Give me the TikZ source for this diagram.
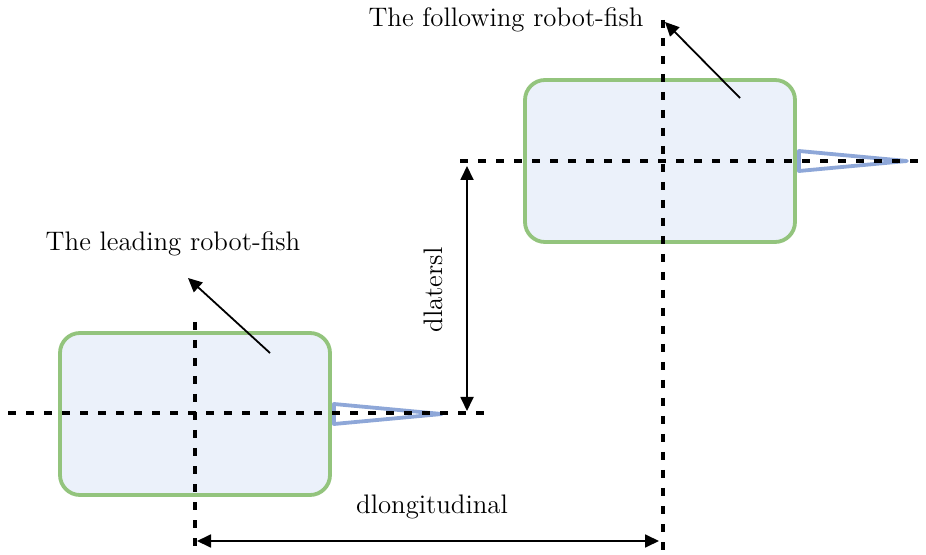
\documentclass[tikz,border=0pt]{standalone}
\usepackage{tikz}
\usetikzlibrary{arrows.meta,positioning}
\definecolor{fishFill}{HTML}{EBF1FA}
\definecolor{fishEdge}{HTML}{93C47D}
\definecolor{tailEdge}{HTML}{8EA7D8}
\tikzset{
    fishBody/.style={
        draw=fishEdge,
        line width=1.9pt,
        fill=fishFill,
        rounded corners=10pt,
        minimum width=135pt,
        minimum height=81pt,
        inner sep=0pt
    },
    fishTail/.style={
        draw=tailEdge,
        line width=1.9pt,
        line join=round
    },
    axisLine/.style={
        dash pattern=on 4pt off 5pt,
        line width=1.8pt
    },
    pointerArrow/.style={
        -{Triangle[length=7pt,width=6.5pt]},
        line width=0.9pt
    },
    measureArrow/.style={
        {Triangle[length=7pt,width=6.5pt]}-{Triangle[length=7pt,width=6.5pt]},
        line width=0.9pt
    },
    fishLabel/.style={
        font=\fontsize{13.4}{16}\selectfont,
        inner sep=0pt
    }
}

\begin{document}
\begin{tikzpicture}[x=0.5pt,y=-0.5pt]
        \useasboundingbox (0,0) rectangle (926,555);

        % bodies
        \node[fishBody] (leader) at (195,414) {};
        \node[fishBody] (follower) at (660,161) {};

        % tails
        \draw[fishTail] ([xshift=1pt,yshift=5pt]leader.east) -- ++(108,10) -- ++(-108,10) -- cycle;
        \draw[fishTail] ([xshift=1pt,yshift=5pt]follower.east) -- ++(108,10) -- ++(-108,10) -- cycle;

        % axes
        \coordinate (leadW) at (8,413);
        \coordinate (leadE) at (485,413);
        \coordinate (leadN) at (195,322);
        \coordinate (leadS) at (195,555);
        \coordinate (followW) at (460,161);
        \coordinate (followE) at (926,161);
        \coordinate (followN) at (663,20);
        \coordinate (followS) at (663,555);
        \draw[axisLine] (leadW) -- (leadE);
        \draw[axisLine] (leadN) -- (leadS);
        \draw[axisLine] (followW) -- (followE);
        \draw[axisLine] (followN) -- (followS);

        % pointers
        \node[fishLabel] (leadText) at (173,244) {The leading robot-fish};
        \node[fishLabel] (followText) at (506,20) {The following robot-fish};
        \coordinate (leadFrom) at (270,353);
        \coordinate (leadTo) at (188,278);
        \coordinate (followFrom) at (740,98);
        \coordinate (followTo) at (665,22);
        \draw[pointerArrow] (leadFrom) -- (leadTo);
        \draw[pointerArrow] (followFrom) -- (followTo);

        % distances
        \coordinate (latTop) at (467,166);
        \coordinate (latBot) at (467,411);
        \coordinate (lonLeft) at (197,541);
        \coordinate (lonRight) at (659,541);
        \draw[measureArrow] (latTop) -- (latBot);
        \draw[measureArrow] (lonLeft) -- (lonRight);
        \node[fishLabel,rotate=90] (latText) at (433,290) {dlatersl};
        \node[fishLabel] (lonText) at (432,507) {dlongitudinal};
    \end{tikzpicture}
\end{document}
